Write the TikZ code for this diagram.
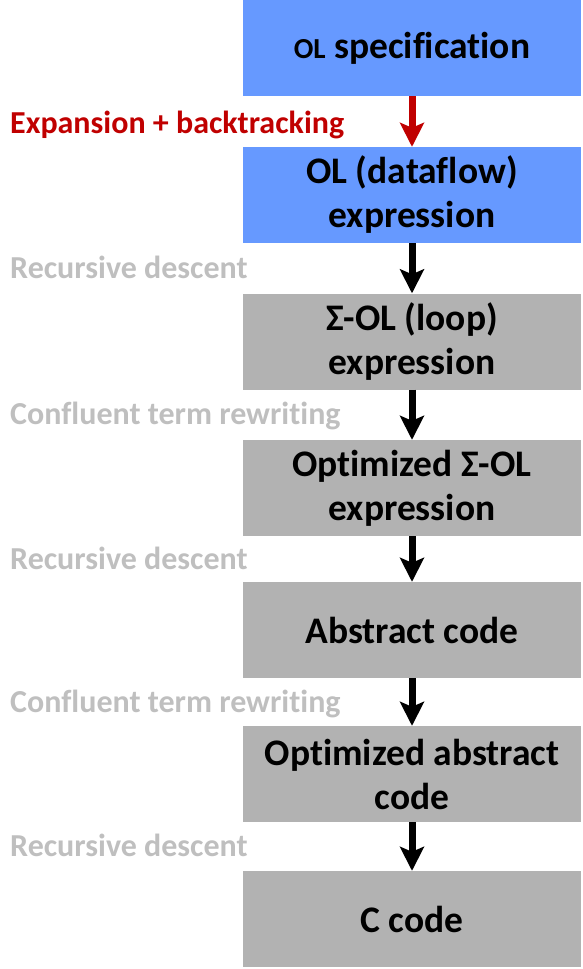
\documentclass[tikz,border=0pt]{standalone}
\usepackage{fontspec}
\setmainfont{Carlito}[Ligatures=NoCommon]
\usetikzlibrary{arrows.meta,positioning}
\definecolor{olblue}{HTML}{6699FF}
\definecolor{stagegray}{HTML}{B2B2B2}
\definecolor{passgray}{HTML}{BFBFBF}
\definecolor{passred}{HTML}{C00000}

\begin{document}
\begin{tikzpicture}[x=1pt,y=-1pt,
  stage/.style={rectangle,fill=stagegray,minimum width=338pt,minimum height=96pt,inner sep=0pt,align=center,font=\fontsize{37.5}{44}\selectfont\bfseries},
  olstage/.style={stage,fill=olblue},
  pass/.style={font=\fontsize{32}{36}\selectfont\bfseries,passgray,anchor=base west,inner sep=0pt},
  flow/.style={line width=7pt,-{Stealth[length=24pt,width=24pt,inset=5pt]}}]
  \useasboundingbox (0,0) rectangle (582,969);

  % Pipeline stages
  \node[olstage] (spec) at (412,48) {{\fontsize{29}{30}\selectfont OL} specification};
  \node[olstage] (dataflow) at (412,195) {OL (dataflow)\\expression};
  \node[stage] (loop) at (412,341.5) {Σ-OL (loop)\\expression};
  \node[stage] (optloop) at (412,488) {Optimized Σ-OL\\expression};
  \node[stage] (abstr) at (412,630) {Abstract code};
  \node[stage] (optabstr) at (412,774) {Optimized abstract\\code};
  \node[stage] (ccode) at (412,919) {C code};

  % Transformations
  \draw[flow,passred] (spec) -- (dataflow);
  \draw[flow] (dataflow) -- (loop);
  \draw[flow] (loop) -- (optloop);
  \draw[flow] (optloop) -- (abstr);
  \draw[flow] (abstr) -- (optabstr);
  \draw[flow] (optabstr) -- (ccode);

  % Pass names
  \node[pass,passred] (expand) at (10,133) {Expansion + backtracking};
  \node[pass] (rd1) at (10,278) {Recursive descent};
  \node[pass] (ctr1) at (10,424) {Confluent term rewriting};
  \node[pass] (rd2) at (10,569) {Recursive descent};
  \node[pass] (ctr2) at (10,712) {Confluent term rewriting};
  \node[pass] (rd3) at (10,856) {Recursive descent};
\end{tikzpicture}
\end{document}
